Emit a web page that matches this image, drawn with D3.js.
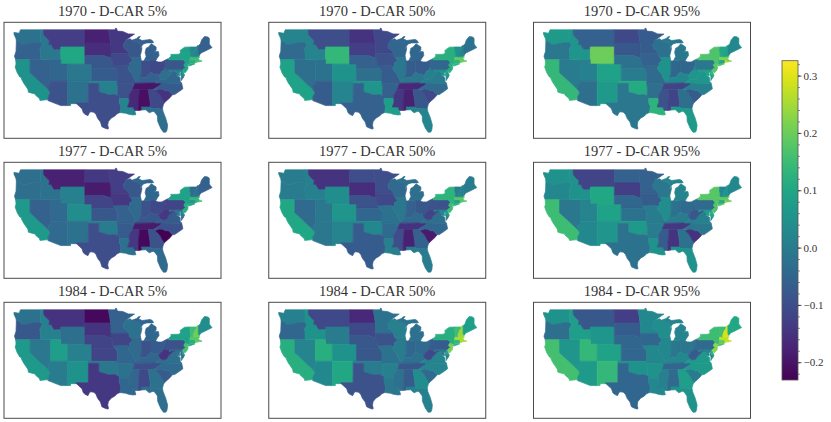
<!DOCTYPE html>
<html>
<head>
<meta charset="utf-8">
<script src="https://cdn.jsdelivr.net/npm/d3@7"></script>
<style>
  body { margin: 0; background: #fff; }
  text { font-family: "Liberation Serif", serif; fill: #333; }
</style>
</head>
<body>
<div id="chart"></div>
<script>
// State outlines, lon/lat, simplified
var shapes = {
  WA: [[[-124.7,48.4],[-123.2,48.2],[-122.8,49],[-117.03,49],[-117.04,46],[-118.98,46],[-119.3,45.93],[-121.2,45.65],[-122.3,45.55],[-122.8,45.9],[-123.4,46.2],[-124,46.3],[-124.1,46.9],[-124.7,48]]],
  OR: [[[-124,46.3],[-123.4,46.2],[-122.8,45.9],[-122.3,45.55],[-121.2,45.65],[-119.3,45.93],[-118.98,46],[-117.04,46],[-116.92,46],[-116.46,45.6],[-117.2,44.4],[-117.03,44],[-117.03,42],[-124.2,42],[-124.55,42.84],[-124.1,44]]],
  CA: [[[-124.2,42],[-120,42],[-120,39],[-114.63,35],[-114.14,34.3],[-114.72,33.4],[-114.72,32.72],[-117.12,32.53],[-117.3,33],[-118.4,33.75],[-118.5,34.03],[-119.2,34.15],[-120.5,34.45],[-120.65,35.15],[-121.9,36.6],[-122.5,37.5],[-122.5,37.8],[-123,38],[-123.75,39],[-124.35,40.3],[-124.1,41]]],
  NV: [[[-120,42],[-114.04,42],[-114.04,36.2],[-114.74,36.1],[-114.63,35],[-120,39]]],
  ID: [[[-117.03,49],[-116.05,49],[-116.05,48],[-115.7,47.5],[-114.7,46.7],[-114.35,46.65],[-114.5,45.55],[-113.9,45.65],[-113.45,44.95],[-113,44.45],[-111.5,44.55],[-111.05,44.48],[-111.05,42],[-117.03,42],[-117.03,44],[-117.2,44.4],[-116.46,45.6],[-116.92,46],[-117.04,46]]],
  MT: [[[-116.05,49],[-104.05,49],[-104.05,45],[-111.05,45],[-111.05,44.48],[-111.5,44.55],[-113,44.45],[-113.45,44.95],[-113.9,45.65],[-114.5,45.55],[-114.35,46.65],[-114.7,46.7],[-115.7,47.5],[-116.05,48]]],
  WY: [[[-111.05,45],[-104.05,45],[-104.05,41],[-111.05,41]]],
  UT: [[[-114.04,42],[-111.05,42],[-111.05,41],[-109.05,41],[-109.05,37],[-114.04,37]]],
  AZ: [[[-114.04,37],[-109.05,37],[-109.05,31.33],[-111.07,31.33],[-114.81,32.5],[-114.72,32.72],[-114.72,33.4],[-114.14,34.3],[-114.63,35],[-114.74,36.1],[-114.04,36.2]]],
  CO: [[[-109.05,41],[-102.05,41],[-102.05,37],[-109.05,37]]],
  NM: [[[-109.05,37],[-103,37],[-103.04,32],[-106.62,32],[-106.53,31.78],[-108.21,31.78],[-108.21,31.33],[-109.05,31.33]]],
  ND: [[[-104.05,49],[-97.23,49],[-96.85,47.6],[-96.56,45.94],[-104.05,45.94]]],
  SD: [[[-104.05,45.94],[-96.56,45.94],[-96.45,45.3],[-96.45,43.5],[-96.45,42.49],[-97.9,42.8],[-98.5,43],[-104.05,43]]],
  NE: [[[-104.05,43],[-98.5,43],[-97.9,42.8],[-96.45,42.49],[-96.1,41.7],[-95.85,40.7],[-95.31,40],[-102.05,40],[-102.05,41],[-104.05,41]]],
  KS: [[[-102.05,40],[-95.31,40],[-94.9,39.75],[-94.61,39.1],[-94.62,37],[-102.05,37]]],
  OK: [[[-103,37],[-94.62,37],[-94.62,36.5],[-94.43,35.4],[-94.48,33.64],[-95.5,33.9],[-97.1,33.8],[-98.1,34.1],[-99.2,34.3],[-100,34.56],[-100,36.5],[-103,36.5]]],
  TX: [[[-103,36.5],[-100,36.5],[-100,34.56],[-99.2,34.3],[-98.1,34.1],[-97.1,33.8],[-95.5,33.9],[-94.48,33.64],[-94.04,33.55],[-94.04,33],[-94.04,31.99],[-93.55,31.2],[-93.7,30.3],[-93.84,29.7],[-94.7,29.4],[-95.3,28.9],[-96.4,28.4],[-97.2,27.6],[-97.4,26.8],[-97.15,25.96],[-97.5,25.85],[-98.2,26.06],[-99.1,26.4],[-99.5,27.5],[-100.3,28.3],[-100.8,29.25],[-101.4,29.77],[-102.3,29.88],[-102.7,29.7],[-103.15,28.98],[-104,29.3],[-104.5,29.65],[-104.9,30.6],[-106,31.4],[-106.53,31.78],[-106.62,32],[-103.04,32]]],
  MN: [[[-97.23,49],[-95.15,49],[-95.15,49.38],[-94.8,49.3],[-94.6,48.7],[-93,48.6],[-91.4,48.05],[-89.6,48],[-92,46.7],[-92.3,46.65],[-92.3,46.1],[-92.9,45.6],[-92.75,44.75],[-91.9,44.3],[-91.22,43.5],[-96.45,43.5],[-96.45,45.3],[-96.56,45.94],[-96.85,47.6]]],
  IA: [[[-96.45,43.5],[-91.22,43.5],[-91.1,42.7],[-90.64,42.5],[-90.15,41.8],[-91.1,41.2],[-91,40.7],[-91.42,40.38],[-91.73,40.61],[-95.77,40.58],[-95.85,40.7],[-96.1,41.7],[-96.45,42.49]]],
  MO: [[[-95.77,40.58],[-91.73,40.61],[-91.42,40.38],[-91.5,40],[-90.7,39],[-90.2,38.8],[-90.2,38.4],[-89.5,37.3],[-89.13,36.98],[-89.42,36.5],[-89.7,36],[-90.37,36],[-90.15,36.5],[-94.62,36.5],[-94.62,37],[-94.61,39.1],[-94.9,39.75],[-95.31,40],[-95.85,40.7]]],
  AR: [[[-94.62,36.5],[-90.15,36.5],[-90.37,36],[-89.7,36],[-90.1,35.1],[-90.6,34.6],[-91.1,33.9],[-91.17,33],[-94.04,33],[-94.04,33.55],[-94.48,33.64],[-94.43,35.4]]],
  LA: [[[-94.04,33],[-91.17,33],[-91.1,32.2],[-91.6,31],[-89.73,31],[-89.85,30.65],[-89.5,30.2],[-89.4,29.8],[-89.2,29.2],[-90.1,29.15],[-91.3,29.3],[-92.2,29.55],[-93.84,29.7],[-93.7,30.3],[-93.55,31.2],[-94.04,31.99]]],
  WI: [[[-92,46.7],[-90.8,46.9],[-90.4,46.55],[-89.1,46.15],[-88.1,45.9],[-87.8,45.35],[-87.6,45.1],[-88,44.55],[-87.4,44.9],[-87.53,44.2],[-87.9,43],[-87.8,42.49],[-90.64,42.5],[-91.1,42.7],[-91.22,43.5],[-91.9,44.3],[-92.75,44.75],[-92.9,45.6],[-92.3,46.1],[-92.3,46.65]]],
  IL: [[[-90.64,42.5],[-87.8,42.49],[-87.53,41.7],[-87.53,39.35],[-87.6,38.7],[-88.05,37.8],[-88.45,37.1],[-89.13,36.98],[-89.5,37.3],[-90.2,38.4],[-90.2,38.8],[-90.7,39],[-91.5,40],[-91.42,40.38],[-91,40.7],[-91.1,41.2],[-90.15,41.8]]],
  IN: [[[-87.53,41.7],[-87.2,41.75],[-86.82,41.76],[-84.8,41.73],[-84.8,39.1],[-85.4,38.7],[-86,38],[-86.8,37.95],[-88.05,37.8],[-87.6,38.7],[-87.53,39.35]]],
  MI: [[[-86.82,41.76],[-84.8,41.73],[-83.45,41.73],[-83.1,42.25],[-82.45,43],[-82.6,43.9],[-83.4,43.95],[-83.9,43.7],[-83.3,44.3],[-83.3,45],[-84.7,45.75],[-85.5,45],[-86.2,44.7],[-86.5,43.7],[-86.2,42.8]],
       [[-90.4,46.55],[-89,46.95],[-88.4,47.4],[-87.9,47.45],[-88.4,46.9],[-87.4,46.5],[-85,46.75],[-84.4,46.5],[-84,46],[-84.75,45.95],[-86,45.95],[-87,45.7],[-87.6,45.1],[-87.8,45.35],[-88.1,45.9],[-89.1,46.15]]],
  OH: [[[-84.8,41.73],[-83.45,41.73],[-82.7,41.5],[-81.7,41.5],[-80.52,41.98],[-80.52,40.64],[-80.65,40.3],[-80.87,39.7],[-81.7,39.2],[-82.2,38.6],[-82.6,38.4],[-83,38.73],[-83.7,38.63],[-84.8,39.1]]],
  KY: [[[-89.42,36.5],[-89.13,36.98],[-88.45,37.1],[-88.05,37.8],[-86.8,37.95],[-86,38],[-85.4,38.7],[-84.8,39.1],[-83.7,38.63],[-83,38.73],[-82.6,38.4],[-81.97,37.54],[-83.67,36.6],[-88.07,36.55]]],
  TN: [[[-89.7,36],[-89.42,36.5],[-88.07,36.55],[-83.67,36.6],[-81.68,36.59],[-82,36.1],[-84.32,35],[-85.6,35],[-88.2,35],[-90.1,35.1]]],
  MS: [[[-91.17,33],[-91.1,33.9],[-90.6,34.6],[-90.1,35.1],[-88.2,35],[-88.1,34.9],[-88.47,31.9],[-88.4,30.2],[-89.5,30.2],[-89.85,30.65],[-89.73,31],[-91.6,31],[-91.1,32.2]]],
  AL: [[[-88.2,35],[-85.6,35],[-85.18,32.87],[-85.05,32.2],[-85,31],[-87.6,31],[-87.4,30.65],[-87.5,30.3],[-88.4,30.2],[-88.47,31.9],[-88.1,34.9]]],
  GA: [[[-85.6,35],[-84.32,35],[-83.1,35],[-83.35,34.7],[-82.6,34.2],[-81.9,33.4],[-81.4,32.6],[-80.85,32.03],[-81.2,31.5],[-81.45,30.7],[-82.05,30.36],[-82.2,30.57],[-84.86,30.7],[-85,31],[-85.05,32.2],[-85.18,32.87]]],
  FL: [[[-87.6,31],[-85,31],[-84.86,30.7],[-82.2,30.57],[-82.05,30.36],[-81.45,30.7],[-81.25,29.9],[-80.5,28.4],[-79.95,26.8],[-80.1,25.7],[-80.4,25.15],[-81.15,25.1],[-81.95,26],[-82.85,27.7],[-82.9,28.9],[-83.75,29.85],[-84.2,30],[-85.3,29.65],[-86.3,30.35],[-87.5,30.3],[-87.4,30.65]]],
  SC: [[[-83.1,35],[-82.3,35.2],[-81.05,35.15],[-80.8,34.82],[-79.67,34.8],[-78.55,33.86],[-79.2,33.2],[-79.9,32.7],[-80.85,32.03],[-81.4,32.6],[-81.9,33.4],[-82.6,34.2],[-83.35,34.7]]],
  NC: [[[-84.32,35],[-82,36.1],[-81.68,36.59],[-75.85,36.55],[-75.5,35.25],[-76.5,34.65],[-77.9,33.9],[-78.55,33.86],[-79.67,34.8],[-80.8,34.82],[-81.05,35.15],[-82.3,35.2],[-83.1,35]]],
  VA: [[[-83.67,36.6],[-81.97,37.54],[-81.3,37.3],[-80.3,37.5],[-79.5,38.45],[-78.9,38.8],[-78.35,39.4],[-77.75,39.3],[-77.1,38.8],[-77.3,38.4],[-76.3,37.9],[-76.3,37],[-75.85,36.55],[-81.68,36.59]],
       [[-75.9,37.95],[-75.25,38.03],[-75.95,37.15]]],
  WV: [[[-82.6,38.4],[-82.2,38.6],[-81.7,39.2],[-80.87,39.7],[-80.65,40.3],[-80.52,40.64],[-80.52,39.72],[-79.48,39.72],[-79.48,39.2],[-78.35,39.65],[-77.75,39.3],[-78.35,39.4],[-78.9,38.8],[-79.5,38.45],[-80.3,37.5],[-81.3,37.3],[-81.97,37.54]]],
  MD: [[[-79.48,39.72],[-75.79,39.72],[-75.7,38.46],[-75.05,38.45],[-75.25,38.03],[-75.9,37.95],[-76.2,38.6],[-76,39.4],[-76.5,38.9],[-76.4,38.3],[-77.3,38.4],[-77.1,38.8],[-77.75,39.3],[-78.35,39.65],[-79.48,39.2]]],
  DE: [[[-75.79,39.72],[-75.4,39.8],[-75.55,39.5],[-75.05,38.45],[-75.7,38.46]]],
  PA: [[[-80.52,41.98],[-79.76,42.27],[-79.76,42],[-75.35,42],[-74.7,41.36],[-75.1,40.95],[-75.2,40.65],[-74.72,40.15],[-75.4,39.8],[-75.79,39.72],[-80.52,39.72],[-80.52,40.64]]],
  NJ: [[[-74.7,41.36],[-73.9,41],[-74.25,40.5],[-73.98,40.4],[-74.1,39.75],[-74.9,38.95],[-75.55,39.5],[-75.4,39.8],[-74.72,40.15],[-75.2,40.65],[-75.1,40.95]]],
  NY: [[[-79.76,42.27],[-78.9,42.9],[-79.05,43.27],[-76.8,43.3],[-76.2,43.55],[-76.3,44.2],[-75,44.95],[-73.35,45],[-73.45,44],[-73.25,43.6],[-73.27,42.75],[-73.5,42.05],[-73.5,41.3],[-73.65,41],[-73.9,41],[-74.7,41.36],[-75.35,42],[-79.76,42]],
       [[-74,40.6],[-73.7,40.9],[-72.3,41.15],[-72,41.05],[-73.5,40.6]]],
  CT: [[[-73.5,42.05],[-71.8,42.02],[-71.85,41.32],[-73.65,41],[-73.5,41.3]]],
  RI: [[[-71.8,42.02],[-71.38,42.02],[-71.2,41.5],[-71.85,41.32]]],
  MA: [[[-73.27,42.75],[-72.46,42.73],[-71.3,42.7],[-70.85,42.87],[-70.6,42.65],[-71,42.3],[-70.55,41.8],[-70,41.8],[-70,41.65],[-71.2,41.5],[-71.38,42.02],[-71.8,42.02],[-73.5,42.05]]],
  VT: [[[-73.35,45],[-71.5,45],[-71.6,44.5],[-72.05,44.1],[-72.45,43.2],[-72.46,42.73],[-73.27,42.75],[-73.25,43.6],[-73.45,44]]],
  NH: [[[-71.5,45],[-71.3,45.3],[-71,45.3],[-70.98,43.4],[-70.7,43.05],[-70.85,42.87],[-71.3,42.7],[-72.46,42.73],[-72.45,43.2],[-72.05,44.1],[-71.6,44.5]]],
  ME: [[[-71,45.3],[-70.4,45.75],[-70.25,46.2],[-70,46.7],[-69.2,47.45],[-68.3,47.35],[-67.8,47.05],[-67.8,45.7],[-67.45,45.3],[-67,44.85],[-68.5,44.25],[-69.1,44],[-70.2,43.6],[-70.7,43.05],[-70.98,43.4]]]
};

// Estimated values
var states = ["WA","OR","CA","NV","ID","MT","WY","UT","AZ","CO","NM","ND","SD","NE","KS","OK","TX","MN","IA","MO","AR","LA","WI","IL","IN","MI","OH","KY","TN","MS","AL","GA","FL","SC","NC","VA","WV","MD","DE","PA","NJ","NY","CT","RI","MA","VT","NH","ME"];
var y1970p5  = [-0.02,-0.06,0.05,-0.06,-0.01,-0.13,0.10,-0.05,-0.09,-0.01,-0.02,-0.18,-0.16,-0.08,-0.07,0.01,-0.10,-0.14,-0.11,-0.09,-0.09,0.02,-0.08,-0.04,-0.10,-0.06,-0.11,-0.06,-0.20,-0.17,-0.21,-0.11,-0.03,-0.15,-0.07,-0.05,-0.03,0.02,0.05,-0.08,0.10,0.09,0.12,0.16,0.15,0.03,0.02,-0.06];
var y1970p50 = [0.02,-0.04,0.09,-0.03,0.02,-0.10,0.14,-0.02,-0.07,0.05,0.02,-0.15,-0.13,-0.06,-0.03,0.06,-0.06,-0.11,-0.09,-0.07,-0.06,0.08,-0.05,-0.01,-0.07,-0.05,-0.07,-0.01,-0.17,-0.14,-0.18,-0.08,0.02,-0.11,-0.04,0.00,0.01,0.05,0.09,-0.05,0.12,0.12,0.13,0.20,0.19,0.05,0.03,-0.02];
var y1970p95 = [0.07,-0.01,0.14,0.00,0.06,-0.06,0.20,0.01,-0.03,0.09,0.07,-0.11,-0.08,-0.02,0.00,0.11,-0.01,-0.07,-0.06,-0.04,-0.03,0.13,-0.02,0.05,-0.05,-0.01,-0.05,0.03,-0.12,-0.09,-0.12,-0.03,0.07,-0.07,0.01,0.06,0.06,0.09,0.14,-0.01,0.18,0.17,0.10,0.28,0.22,0.10,0.09,0.03];
var y1977p5  = [-0.03,-0.03,0.07,-0.06,-0.02,-0.18,0.01,-0.04,-0.04,0.04,-0.02,-0.14,-0.19,-0.12,-0.08,0.00,-0.10,-0.13,-0.14,-0.06,-0.07,-0.02,-0.08,-0.04,-0.09,-0.05,-0.11,-0.08,-0.19,-0.14,-0.22,-0.09,-0.04,-0.23,-0.09,-0.07,-0.14,-0.01,0.04,-0.12,0.12,0.09,0.07,0.13,0.14,-0.04,-0.02,-0.06];
var y1977p50 = [0.00,0.00,0.10,-0.04,0.01,-0.15,0.04,-0.01,-0.01,0.06,0.02,-0.10,-0.16,-0.09,-0.05,0.03,-0.07,-0.10,-0.11,-0.02,-0.04,0.01,-0.04,-0.01,-0.06,-0.03,-0.08,-0.04,-0.15,-0.10,-0.18,-0.06,0.00,-0.19,-0.05,-0.03,-0.12,0.03,0.08,-0.09,0.15,0.13,0.09,0.18,0.18,0.00,0.02,0.00];
var y1977p95 = [0.05,0.03,0.15,-0.01,0.05,-0.12,0.10,0.02,0.03,0.09,0.06,-0.06,-0.13,-0.05,-0.02,0.07,-0.02,-0.06,-0.07,0.00,0.00,0.05,-0.01,0.04,-0.02,0.02,-0.04,0.00,-0.14,-0.07,-0.15,-0.02,0.05,-0.15,-0.01,0.01,-0.08,0.08,0.12,-0.04,0.17,0.18,0.11,0.24,0.19,0.03,0.06,0.03];
var y1984p5  = [-0.02,-0.08,0.07,-0.01,0.01,-0.15,-0.03,0.08,0.00,0.01,0.05,-0.22,-0.15,-0.12,-0.12,-0.01,-0.14,-0.06,-0.12,-0.05,-0.02,-0.05,-0.02,-0.04,-0.09,-0.05,-0.07,-0.05,-0.10,-0.05,-0.11,-0.02,-0.03,-0.07,-0.04,-0.03,-0.15,-0.03,0.07,-0.09,0.16,0.09,0.12,0.20,0.18,0.15,0.20,0.04];
var y1984p50 = [0.01,-0.05,0.12,0.02,0.05,-0.11,0.00,0.12,0.03,0.05,0.10,-0.17,-0.11,-0.08,-0.08,0.00,-0.09,-0.02,-0.09,-0.02,0.01,-0.01,0.01,0.00,-0.05,-0.02,-0.04,-0.02,-0.08,-0.02,-0.07,0.04,0.01,-0.04,0.02,0.02,-0.11,0.00,0.10,-0.07,0.21,0.12,0.14,0.26,0.25,0.15,0.24,0.08];
var y1984p95 = [0.05,-0.03,0.16,0.06,0.08,-0.08,0.06,0.14,0.07,0.09,0.14,-0.13,-0.07,-0.05,-0.05,0.05,-0.05,0.03,-0.05,0.03,0.05,0.03,0.04,0.03,-0.01,0.02,-0.01,0.03,-0.05,0.01,-0.04,0.08,0.05,0.00,0.07,0.07,-0.07,0.03,0.13,-0.04,0.23,0.15,0.19,0.29,0.27,0.15,0.29,0.10];

var titles = ["1970 - D-CAR 5%","1970 - D-CAR 50%","1970 - D-CAR 95%","1977 - D-CAR 5%","1977 - D-CAR 50%","1977 - D-CAR 95%","1984 - D-CAR 5%","1984 - D-CAR 50%","1984 - D-CAR 95%"];
var panelValues = [y1970p5,y1970p50,y1970p95,y1977p5,y1977p50,y1977p95,y1984p5,y1984p50,y1984p95];
var colorDomain = [-0.231, 0.326];
var colorTicks = [-0.2,-0.1,0.0,0.1,0.2,0.3];
var colorMinorTicks = [-0.22,-0.2,-0.18,-0.16,-0.14,-0.12,-0.1,-0.08,-0.06,-0.04,-0.02,0,0.02,0.04,0.06,0.08,0.1,0.12,0.14,0.16,0.18,0.2,0.22,0.24,0.26,0.28,0.3,0.32];

var svg = d3.select("#chart").append("svg")
    .attr("width", 831)
    .attr("height", 422);

var panelWidth = 217, panelHeight = 116;
var colX = d3.scaleLinear().domain([0, 2]).range([4, 533.5]);
var rowY = d3.scaleLinear().domain([0, 2]).range([22.3, 302.3]);

// Plain lon/lat axes, the borders stay straight
var x = d3.scaleLinear().domain([-127.6, -64.4]).range([0, panelWidth]);
var y = d3.scaleLinear().domain([23.7, 50.75]).range([panelHeight, 0]);
var path = d3.geoPath(d3.geoTransform({
    point: function(lon, lat) { this.stream.point(x(lon), y(lat)); }
}));

var color = d3.scaleSequential(d3.interpolateViridis).domain(colorDomain);

var features = states.map(function(s) {
    return {type: "Feature", id: s, geometry: {type: "MultiPolygon", coordinates: shapes[s].map(function(r) { return [r.concat([r[0]])]; })}};
});

titles.forEach(function(title, i) {
    var g = svg.append("g")
        .attr("transform", "translate(" + colX(i % 3) + "," + rowY(Math.floor(i / 3)) + ")");

    g.selectAll("path")
        .data(features)
        .join("path")
        .attr("d", path)
        .attr("fill", function(d, j) { return color(panelValues[i][j]); })
        .attr("stroke", function(d, j) { return color(panelValues[i][j]); })
        .attr("stroke-width", 0.7);

    g.append("rect")
        .attr("width", panelWidth)
        .attr("height", panelHeight)
        .attr("fill", "none")
        .attr("stroke", "#4a4a4a")
        .attr("stroke-width", 1);

    g.append("text")
        .attr("x", panelWidth / 2)
        .attr("y", -6.5)
        .style("text-anchor", "middle")
        .style("font-size", "14.5px")
        .text(title);
});

// Colorbar
var cbY = d3.scaleLinear().domain(colorDomain).range([380, 60.7]);
var grad = svg.append("defs").append("linearGradient")
    .attr("id", "viridis")
    .attr("x1", "0").attr("y1", "1").attr("x2", "0").attr("y2", "0");
d3.range(0, 1.01, 0.05).forEach(function(t) {
    grad.append("stop")
        .attr("offset", t)
        .attr("stop-color", d3.interpolateViridis(t));
});
svg.append("rect")
    .attr("x", 782)
    .attr("y", 60.7)
    .attr("width", 16)
    .attr("height", 319.3)
    .attr("fill", "url(#viridis)")
    .attr("stroke", "#555")
    .attr("stroke-width", 0.8);

var major = svg.append("g")
    .attr("transform", "translate(798,0)")
    .call(d3.axisRight(cbY).tickValues(colorTicks).tickSize(3.5).tickPadding(2).tickFormat(d3.format(".1f")));
major.select(".domain").remove();
major.selectAll("text").style("font-size", "11px").style("font-family", "'Liberation Serif', serif");
major.selectAll("line").attr("stroke", "#222").attr("stroke-width", 0.8);

var minor = svg.append("g")
    .attr("transform", "translate(798,0)")
    .call(d3.axisRight(cbY).tickValues(colorMinorTicks).tickSize(2).tickFormat(""));
minor.select(".domain").remove();
minor.selectAll("line").attr("stroke", "#222").attr("stroke-width", 0.5);
</script>
</body>
</html>
